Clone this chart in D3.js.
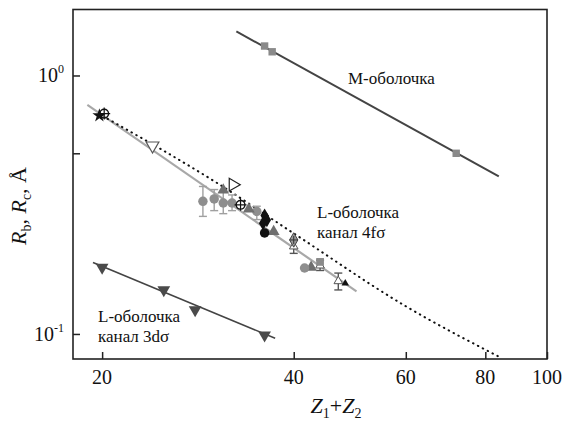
<!DOCTYPE html>
<html>
<head>
<meta charset="utf-8">
<script src="https://cdn.jsdelivr.net/npm/d3@7"></script>
<style>
  body { margin: 0; background: #fff; }
  svg { display: block; }
  svg text { font-family: "Liberation Serif", "DejaVu Serif", serif; }
</style>
</head>
<body>
<svg id="chart" width="574" height="422"></svg>
<script>
// Axis ticks
const xTicks = [20, 40, 60, 80, 100];
const yTicks = [0.1, 0.5, 1];
const yTickLabels = [{ v: 0.1, base: "10", exp: "-1" }, { v: 1, base: "10", exp: "0" }];

// M-shell: measured points and fitted line
const mPoints = [[36, 1.30], [37, 1.235], [72, 0.50]];
const mLine = [[32.5, 1.48], [84, 0.407]];

// L-shell, 3dσ channel
const l3Points = [[20, 0.181], [25, 0.148], [28, 0.124], [36, 0.099]];
const l3Line = [[19.35, 0.189], [37.4, 0.0962]];

// L-shell, 4fσ channel: fitted line and theory curve
const l4Line = [[18.96, 0.77], [50.2, 0.146]];
const l4Theory = [[20.4, 0.68], [30, 0.39], [40, 0.245], [60, 0.128], [85, 0.0805]];

// L-shell, 4fσ channel: experimental points by source
const stars = [[19.8, 0.70]];
const crossCircles = [[20.15, 0.712], [33, 0.316]];
const openDown = [[24, 0.535]];
const openRight = [[32.1, 0.378]];
const grayTriangles = [[31, 0.36], [34, 0.304], [37.2, 0.249], [42.6, 0.181]];
const grayCirclesErr = [
  { z: 28.8, r: 0.326, lo: 0.285, hi: 0.372 },
  { z: 30, r: 0.333, lo: 0.300, hi: 0.362 },
  { z: 31, r: 0.321, lo: 0.292, hi: 0.355 },
  { z: 32, r: 0.321, lo: 0.300, hi: 0.345 },
  { z: 35, r: 0.298, lo: 0.277, hi: 0.312 }
];
const blackDiamonds = [[36, 0.287], [36.3, 0.276], [35.8, 0.268]];
const blackCircles = [[36, 0.246]];
const grayCircles = [[41.6, 0.18]];
const graySquares = [[44, 0.19]];
const grayCrossDiamonds = [[40, 0.231]];
const openTrianglesErr = [
  { z: 40, r: 0.218, lo: 0.205, hi: 0.232 },
  { z: 44, r: 0.184, lo: 0.176, hi: 0.193 },
  { z: 47, r: 0.160, lo: 0.148, hi: 0.172 }
];
const blackSmallTriangles = [[48.2, 0.157]];

// Layout
const svg = d3.select("#chart").attr("font-family", "'Liberation Serif', 'DejaVu Serif', serif");
const plotLeft = 73, plotRight = 547, plotTop = 9.5, plotBottom = 359;

const x = d3.scaleLog().domain([18, 100]).range([plotLeft, plotRight]);
const y = d3.scaleLog().domain([0.08, 1.8]).range([plotBottom, plotTop]);

const straight = d3.line().x(d => x(d[0])).y(d => y(d[1]));
const smooth = d3.line().x(d => x(d[0])).y(d => y(d[1])).curve(d3.curveMonotoneX);

// Axes with inward ticks
svg.append("g")
  .attr("transform", `translate(0,${plotBottom})`)
  .call(d3.axisBottom(x).tickValues(xTicks).tickSize(-7).tickFormat(""))
  .call(g => g.select(".domain").remove())
  .call(g => g.selectAll("line").attr("stroke", "#222").attr("stroke-width", 1.5));

svg.append("g")
  .attr("transform", `translate(${plotLeft},0)`)
  .call(d3.axisLeft(y).tickValues(yTicks).tickSize(-7).tickFormat(""))
  .call(g => g.select(".domain").remove())
  .call(g => g.selectAll("line").attr("stroke", "#222").attr("stroke-width", 1.5));

// Frame
svg.append("rect")
  .attr("x", plotLeft).attr("y", plotTop)
  .attr("width", plotRight - plotLeft).attr("height", plotBottom - plotTop)
  .attr("fill", "none").attr("stroke", "#222").attr("stroke-width", 1.6);

// X tick labels
svg.append("g").selectAll("text").data(xTicks).join("text")
  .attr("x", d => x(d)).attr("y", plotBottom + 25)
  .attr("text-anchor", "middle")
  .attr("font-size", 20).attr("fill", "#111")
  .text(d => d);

// Y tick labels with superscript exponent
const yl = svg.append("g").selectAll("text").data(yTickLabels).join("text")
  .attr("x", plotLeft - 9).attr("y", d => y(d.v) + 7)
  .attr("text-anchor", "end")
  .attr("font-size", 20).attr("fill", "#111");
yl.append("tspan").text(d => d.base);
yl.append("tspan").attr("dy", -9).attr("font-size", 12).text(d => d.exp);

// Axis titles
const xt = svg.append("text")
  .attr("x", 336).attr("y", 413)
  .attr("text-anchor", "middle")
  .attr("font-size", 22).attr("fill", "#111");
xt.append("tspan").attr("font-style", "italic").text("Z");
xt.append("tspan").attr("dy", 5).attr("font-size", 14).text("1");
xt.append("tspan").attr("dy", -5).text("+");
xt.append("tspan").attr("font-style", "italic").text("Z");
xt.append("tspan").attr("dy", 5).attr("font-size", 14).text("2");

const yt = svg.append("text")
  .attr("transform", "translate(26,206) rotate(-90)")
  .attr("text-anchor", "middle")
  .attr("font-size", 22).attr("fill", "#111");
yt.append("tspan").attr("font-style", "italic").text("R");
yt.append("tspan").attr("dy", 5).attr("font-size", 14).text("b");
yt.append("tspan").attr("dy", -5).text(", ");
yt.append("tspan").attr("font-style", "italic").text("R");
yt.append("tspan").attr("dy", 5).attr("font-size", 14).text("c");
yt.append("tspan").attr("dy", -5).text(", Å");

// Lines
svg.append("path").datum(mLine).attr("d", straight)
  .attr("fill", "none").attr("stroke", "#444").attr("stroke-width", 2);
svg.append("path").datum(l3Line).attr("d", straight)
  .attr("fill", "none").attr("stroke", "#444").attr("stroke-width", 1.6);
svg.append("path").datum(l4Line).attr("d", straight)
  .attr("fill", "none").attr("stroke", "#a8a8a8").attr("stroke-width", 2.2);
svg.append("path").datum(l4Theory).attr("d", smooth)
  .attr("fill", "none").attr("stroke", "#111").attr("stroke-width", 2)
  .attr("stroke-dasharray", "0.5,5").attr("stroke-linecap", "round");

// Marker helpers
const sym = (type, size) => d3.symbol().type(type).size(size)();
function markers(data, type, size, fill, stroke, sw, rot) {
  svg.append("g").selectAll("path").data(data).join("path")
    .attr("transform", d => `translate(${x(d[0])},${y(d[1])})` + (rot ? ` rotate(${rot})` : ""))
    .attr("d", sym(type, size))
    .attr("fill", fill).attr("stroke", stroke || "none").attr("stroke-width", sw || 0);
}
function errBars(data, color) {
  const g = svg.append("g").attr("stroke", color).attr("stroke-width", 1.4);
  g.selectAll(".v").data(data).join("line").attr("class", "v")
    .attr("x1", d => x(d.z)).attr("x2", d => x(d.z))
    .attr("y1", d => y(d.lo)).attr("y2", d => y(d.hi));
  g.selectAll(".lo").data(data).join("line").attr("class", "lo")
    .attr("x1", d => x(d.z) - 4).attr("x2", d => x(d.z) + 4)
    .attr("y1", d => y(d.lo)).attr("y2", d => y(d.lo));
  g.selectAll(".hi").data(data).join("line").attr("class", "hi")
    .attr("x1", d => x(d.z) - 4).attr("x2", d => x(d.z) + 4)
    .attr("y1", d => y(d.hi)).attr("y2", d => y(d.hi));
}

// M-shell squares
markers(mPoints, d3.symbolSquare, 55, "#8a8a8a");
// 3dσ down triangles
markers(l3Points, d3.symbolTriangle, 70, "#4a4a4a", null, 0, 180);

// 4fσ points
errBars(grayCirclesErr, "#a0a0a0");
markers(grayCirclesErr.map(d => [d.z, d.r]), d3.symbolCircle, 70, "#8e8e8e");
errBars(openTrianglesErr, "#555");
markers(openTrianglesErr.map(d => [d.z, d.r]), d3.symbolTriangle, 32, "#fff", "#555", 1);
markers(grayTriangles, d3.symbolTriangle, 60, "#6f6f6f");
markers(grayCircles, d3.symbolCircle, 70, "#8e8e8e");
markers(graySquares, d3.symbolSquare, 60, "#8a8a8a");
markers(grayCrossDiamonds, d3.symbolDiamond, 60, "#9a9a9a", "#444", 1);
svg.append("g").selectAll("path").data(grayCrossDiamonds).join("path")
  .attr("d", d => `M${x(d[0]) - 4},${y(d[1])}h8M${x(d[0])},${y(d[1]) - 4}v8`)
  .attr("stroke", "#333").attr("stroke-width", 1);
markers(openDown, d3.symbolTriangle, 70, "#fff", "#555", 1.2, 180);
markers(openRight, d3.symbolTriangle, 70, "#fff", "#222", 1.2, 90);
markers(blackDiamonds, d3.symbolDiamond, 60, "#111");
markers(blackCircles, d3.symbolCircle, 70, "#111");
markers(blackSmallTriangles, d3.symbolTriangle, 24, "#111");
markers(stars, d3.symbolStar, 60, "#111");
markers(crossCircles, d3.symbolCircle, 60, "none", "#111", 1.4);
svg.append("g").selectAll("path").data(crossCircles).join("path")
  .attr("d", d => `M${x(d[0]) - 6},${y(d[1])}h12M${x(d[0])},${y(d[1]) - 6}v12`)
  .attr("stroke", "#111").attr("stroke-width", 1.2);

// Annotations
const notes = [
  { x: 348, y: 84, lines: ["M-оболочка"] },
  { x: 317, y: 218, lines: ["L-оболочка", "канал 4fσ"] },
  { x: 98, y: 322, lines: ["L-оболочка", "канал 3dσ"] }
];
notes.forEach(n => {
  const t = svg.append("text").attr("x", n.x).attr("y", n.y)
    .attr("font-size", 17).attr("fill", "#111");
  n.lines.forEach((s, i) => t.append("tspan").attr("x", n.x).attr("dy", i ? 20 : 0).text(s));
});
</script>
</body>
</html>
